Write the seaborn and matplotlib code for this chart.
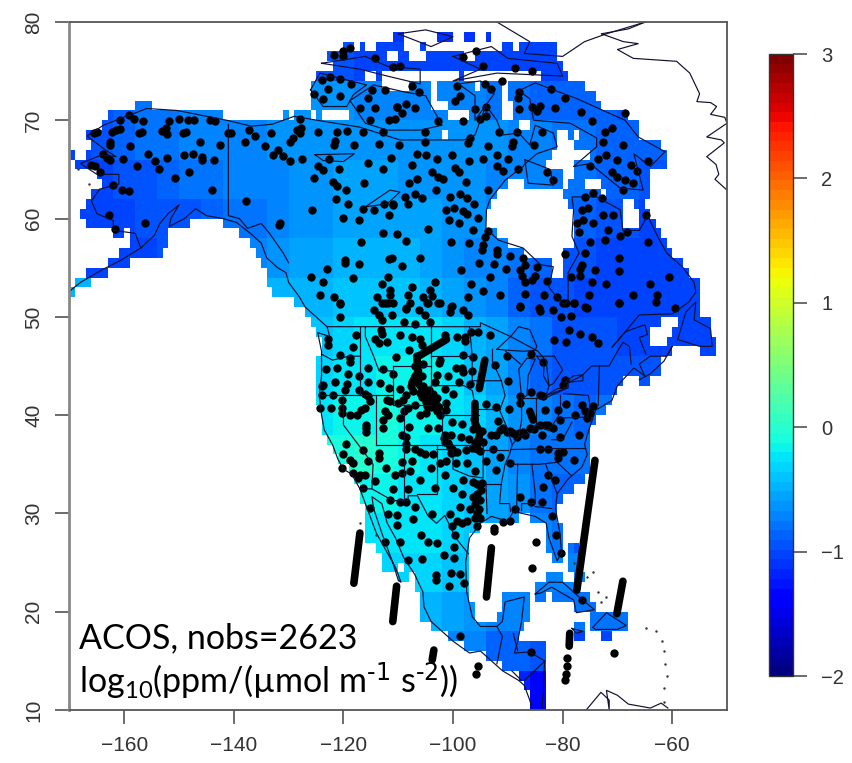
import numpy as np
import pandas as pd
import matplotlib
matplotlib.use('Agg')
import matplotlib.pyplot as plt
import seaborn as sns

# gridded field: land cells per 1 degree latitude row, as (lon start, lon end)
land_spans = {
    78: [(-111, -109), (-103, -100), (-98, -96), (-94, -93)],
    77: [(-120, -118), (-117, -116), (-114, -109), (-106, -105), (-91, -89), (-88, -81)],
    76: [(-123, -112), (-110, -108), (-105, -98), (-96, -81)],
    75: [(-122, -80)],
    74: [(-125, -116), (-114, -113), (-99, -98), (-84, -79)],
    73: [(-126, -113), (-108, -104), (-103, -96), (-95, -91), (-90, -76)],
    72: [(-126, -104), (-103, -91), (-90, -74)],
    71: [(-158, -155), (-126, -104), (-101, -91), (-89, -73)],
    70: [(-163, -142), (-131, -130), (-129, -126), (-125, -124), (-119, -101), (-97, -91), (-89, -68)],
    69: [(-164, -88), (-86, -66)],
    68: [(-167, -102), (-101, -81), (-79, -78), (-77, -66)],
    67: [(-166, -81), (-78, -62)],
    66: [(-170, -169), (-167, -82), (-75, -61)],
    65: [(-169, -83), (-78, -61)],
    64: [(-165, -80), (-78, -64)],
    63: [(-164, -90), (-87, -80), (-79, -76), (-73, -64)],
    62: [(-166, -92), (-80, -73), (-72, -64)],
    61: [(-167, -93), (-79, -69), (-67, -65)],
    60: [(-168, -94), (-78, -69), (-66, -64)],
    59: [(-167, -148), (-142, -94), (-78, -69), (-66, -63)],
    58: [(-162, -160), (-159, -152), (-139, -92), (-78, -62)],
    57: [(-159, -152), (-137, -90), (-78, -61)],
    56: [(-161, -153), (-136, -87), (-80, -60)],
    55: [(-163, -159), (-135, -82), (-80, -58)],
    54: [(-167, -163), (-134, -82), (-80, -57)],
    53: [(-169, -166), (-134, -55)],
    52: [(-170, -169), (-133, -55)],
    51: [(-129, -55)],
    50: [(-127, -55)],
    49: [(-126, -62), (-59, -53)],
    48: [(-125, -64), (-60, -53)],
    47: [(-124, -64), (-61, -52)],
    46: [(-124, -60), (-55, -52)],
    45: [(-125, -62)],
    44: [(-125, -62)],
    43: [(-125, -69), (-66, -64)],
    42: [(-125, -70)],
    41: [(-125, -71)],
    40: [(-124, -72)],
    39: [(-124, -74)],
    38: [(-124, -75)],
    37: [(-123, -75)],
    36: [(-122, -75)],
    35: [(-121, -75)],
    34: [(-119, -75)],
    33: [(-118, -76)],
    32: [(-117, -78)],
    31: [(-117, -80)],
    30: [(-116, -81)],
    29: [(-116, -88), (-86, -81)],
    28: [(-116, -95), (-83, -80)],
    27: [(-116, -97), (-83, -80)],
    26: [(-114, -97), (-83, -80), (-79, -77)],
    25: [(-113, -97), (-82, -80), (-79, -77)],
    24: [(-113, -110), (-109, -97), (-79, -77)],
    23: [(-110, -108), (-107, -97), (-83, -80), (-78, -76)],
    22: [(-107, -97), (-85, -78)],
    21: [(-106, -97), (-91, -86), (-85, -83), (-82, -75)],
    20: [(-106, -96), (-91, -86), (-78, -74)],
    19: [(-106, -96), (-92, -86), (-75, -68)],
    18: [(-104, -87), (-78, -76), (-75, -68)],
    17: [(-101, -88), (-78, -76), (-73, -71)],
    16: [(-98, -83)],
    15: [(-94, -83)],
    14: [(-91, -83)],
    13: [(-88, -83)],
    12: [(-87, -83)],
    11: [(-86, -83)],
    10: [(-86, -83)],
}

# field values read in 4 degree blocks: band start lat -> (first lon, values)
band_values = {
    78: (-114, [-1.1, -1.1, -1.12, -1.12, -1.12, -1.1, -1.1, -1.1, -1.1]),
    74: (-126, [-.95, -.95, -1.0, -1.02, -1.02, -1.05, -1.05, -1.05, -1.02, -1.02, -1.02, -1.02, -1.05, -1.05]),
    70: (-166, [-.95, -.88, -.82, -.78, -.75, -.72, -.7, -.68, -.66, -.65, -.65, -.65, -.68, -.72, -.7, -.7, -.7, -.72, -.78, -.82, -.85, -.85, -.88, -.9, -.92, -.95]),
    66: (-170, [-1.0, -.95, -.88, -.82, -.78, -.74, -.72, -.7, -.68, -.65, -.62, -.6, -.6, -.6, -.6, -.62, -.62, -.64, -.65, -.66, -.7, -.74, -.78, -.82, -.85, -.88, -.9, -.9]),
    62: (-170, [-1.0, -1.0, -.96, -.92, -.86, -.82, -.78, -.74, -.72, -.68, -.65, -.62, -.58, -.56, -.56, -.6, -.62, -.62, -.65, -.68, -.7, -.74, -.78, -.82, -.88, -.9, -.94, -.96]),
    58: (-170, [-1.0, -1.0, -1.0, -.98, -.95, -.92, -.88, -.82, -.76, -.7, -.65, -.6, -.55, -.52, -.52, -.55, -.55, -.6, -.62, -.7, -.75, -.8, -.85, -.9, -.94, -.98, -1.0, -1.02, -1.05, -1.05]),
    54: (-170, [-1.0, -1.0, -1.0, -1.0, -.98, -.95, -.88, -.8, -.7, -.62, -.56, -.52, -.48, -.46, -.48, -.5, -.54, -.6, -.68, -.72, -.8, -.88, -.92, -.96, -1.0, -1.02, -1.05, -1.05, -1.05, -1.05]),
    50: (-130, [-.5, -.46, -.42, -.38, -.38, -.42, -.46, -.54, -.62, -.75, -.85, -.92, -.96, -1.0, -1.02, -1.05, -1.05, -1.05, -1.05]),
    46: (-126, [-.36, -.32, -.26, -.24, -.24, -.26, -.34, -.44, -.56, -.7, -.82, -.92, -.96, -.98, -1.0, -1.02, -1.02, -1.02]),
    42: (-126, [-.3, -.26, -.22, -.2, -.18, -.2, -.28, -.42, -.56, -.72, -.85, -.92, -.96, -.96, -.96]),
    38: (-126, [-.22, -.2, -.14, -.06, -.14, -.18, -.24, -.34, -.5, -.64, -.74, -.82, -.86, -.82, -.86]),
    34: (-122, [-.12, -.02, -.12, -.18, -.22, -.3, -.42, -.56, -.7, -.78, -.82, -.82, -.82]),
    30: (-118, [-.16, -.2, -.22, -.26, -.32, -.42, -.52, -.65, -.78, -.84, -.84, -.84]),
    26: (-118, [-.24, -.26, -.26, -.28, -.34, -.42, -.52, -.6, -.7, -.8, -.95, -.88]),
    22: (-114, [-.32, -.32, -.32, -.36, -.42, -.5, -.6, -.68, -.7, -.74, -.7, -.74, -.74]),
    18: (-106, [-.48, -.55, -.62, -.7, -.75, -.8, -.8, -.8, -.8, -.8, -.8, -.8]),
    14: (-102, [-.7, -.75, -.85, -.9, -.95, -1.0, -1.0]),
    10: (-90, [-1.15, -1.35, -1.5]),
}

cbar_ticks = [-2, -1, 0, 1, 2, 3]
lon_ticks = [-160, -140, -120, -100, -80, -60]
lat_ticks = [10, 20, 30, 40, 50, 60, 70, 80]

# observation locations (lon, lat)
alaska_dots = [
    (-165.6, 68.7), (-165, 68.8), (-160.8, 70), (-159.2, 70.5), (-158.3, 70.1), (-156.5, 69.9), (-151.8, 69.9),
    (-150.1, 70.1), (-148.3, 70), (-147.2, 70), (-144.3, 70), (-143.5, 69.9), (-141.1, 68.7), (-140.5, 68.7),
    (-162.6, 67.8), (-162.3, 68.8), (-160.8, 69.1), (-161.5, 69), (-162.6, 67.5), (-157.4, 68.7), (-156.8, 68.8),
    (-153.2, 68.9), (-152.2, 68.6), (-152.4, 69.2), (-149.3, 68.7), (-148.8, 68.8), (-146.2, 67.8), (-142.5, 67.5),
    (-159, 67.4), (-163.8, 66.6), (-162.6, 66), (-163.2, 66.2), (-160.2, 66.1), (-155.7, 66.6), (-154.4, 65.9),
    (-152.2, 66.2), (-149.1, 66.5), (-147.5, 66.6), (-145.9, 66.3), (-145.9, 66), (-143.6, 66), (-165.3, 65.3),
    (-166, 65.4), (-164.5, 64.7), (-157.6, 65.3), (-153.6, 65), (-148.1, 64.7), (-150.8, 64.1), (-162, 63.4),
    (-160.5, 62.9), (-159.1, 62.8), (-144, 62.9), (-162.7, 60.4), (-156.2, 59.5), (-161.7, 58.9),
]
canada_west_dots = [
    (-137.8, 61.8), (-137.2, 69), (-136.1, 68.4), (-137.9, 67.8), (-133.3, 68.7), (-134.4, 67.4), (-127.9, 70.1),
    (-128.5, 69), (-127.8, 69.2), (-128, 68.7), (-129.7, 67.8), (-129.2, 68.2), (-132.8, 66.5), (-131.9, 67),
    (-131, 66.4), (-129.7, 65.9), (-127.5, 66.1), (-124.6, 68.8), (-121.2, 68.8), (-119.4, 68.9), (-121.8, 67.5),
    (-121.6, 67.9), (-118, 67.5), (-116.4, 68.8), (-113.6, 67.6), (-122.7, 66.1), (-124.6, 65.3), (-123.7, 64.9),
    (-120.9, 65), (-115.6, 65.7), (-112.7, 65), (-111.4, 66.2), (-125.3, 64.1), (-122, 63.7), (-121.1, 63.3),
    (-119.5, 62.9), (-116.2, 63.6), (-121.3, 62), (-119.1, 61.5), (-116.4, 61), (-114.5, 60.9), (-112.6, 61.5),
    (-110.9, 61.4), (-111.6, 60.4), (-125.7, 60.9), (-120, 60.1), (-117.2, 59.9), (-131.6, 59.6), (-131.7, 59.3),
    (-112.8, 58.5), (-116.8, 57.6), (-110.3, 58.4), (-119.8, 55.8), (-119.8, 55.5), (-117.2, 55.4), (-111.6, 55.9),
    (-123, 54.9), (-125.9, 54.1), (-123.7, 53.5), (-118.2, 54), (-124.3, 52.2), (-121.8, 52), (-120.6, 51.4),
    (-113, 53.3), (-111.8, 54.1), (-111.5, 52.2), (-113.9, 52), (-112.4, 51.4), (-110.9, 51.4),
]
arctic_dots = [
    (-121.8, 76.6), (-120, 77), (-118.8, 77.4), (-120, 76.5), (-114.2, 76.3), (-110.9, 75.4), (-124, 74.1),
    (-122.4, 74.4), (-120.6, 74.2), (-118.7, 73.7), (-122.8, 73.2), (-125.4, 72.7), (-123.7, 72.2), (-120.6, 72.5),
    (-114.8, 73.1), (-115.5, 72.3), (-112.5, 73.1), (-117, 71.3), (-114.2, 71.2), (-110.3, 71.4), (-115.1, 70),
    (-111.6, 70), (-112.7, 68.8), (-95.8, 77.1), (-94.5, 75.5), (-98.1, 76.4), (-88.7, 75.3), (-85.5, 75),
    (-91.1, 74), (-109.7, 75.5), (-107.5, 73.5), (-106.3, 72.9), (-99.3, 73.5), (-98.7, 72.5), (-99.6, 72),
    (-94.2, 73.7), (-93.1, 73.2), (-87.9, 72.9), (-88.1, 72.3), (-82.1, 73.2), (-79.6, 72.3), (-110.3, 71.4),
    (-108.5, 71.7), (-106.9, 71.2), (-109.4, 70.7), (-110.6, 70.1), (-96, 71.1), (-94, 71.4), (-93.9, 70.4),
    (-95.1, 70.1), (-98.1, 69.9), (-87.9, 71.1), (-85.6, 71.4), (-84.1, 71.5), (-84.7, 70.9), (-81.4, 71.2),
    (-76.7, 70.8), (-74.7, 69.9), (-68.6, 70.7), (-102.7, 69.9), (-71, 69.2), (-72.3, 68.8),
]
canada_east_dots = [
    (-72.6, 67.8), (-68.9, 67.5), (-91.7, 68.8), (-88.4, 68.8), (-89, 67.8), (-89.3, 67.4), (-96.9, 68.2),
    (-97.2, 67.7), (-83.8, 68.8), (-85.2, 67.5), (-105.1, 68.8), (-105.2, 67.8), (-109.8, 67.5), (-93.6, 67.4),
    (-106.6, 66.6), (-104.9, 66.5), (-103, 66.1), (-100.1, 66.5), (-97.1, 65.9), (-94.6, 66.1), (-91.9, 66.5),
    (-90, 66.1), (-73.5, 66.1), (-72, 66.5), (-70.1, 66), (-107.5, 65.5), (-92, 65.3), (-90.8, 64.8), (-88.1, 65),
    (-75, 65.3), (-67.6, 65.4), (-66.4, 64.8), (-64.4, 65.9), (-99.6, 65.1), (-99, 64.7), (-103.9, 64.7),
    (-102.7, 64.2), (-101.8, 64), (-106.5, 64), (-108, 63.6), (-97.6, 63.7), (-103.2, 62.9), (-93.7, 62.9),
    (-82.9, 64.7), (-81.7, 63.9), (-71, 64.7), (-70.1, 64.2), (-68.6, 63.9), (-67.1, 63.6), (-68.9, 62.9),
    (-74.4, 62.6), (-75.9, 62.2), (-72.9, 62.1), (-108.8, 62.2), (-106.9, 62.5), (-105.6, 62.1), (-100.6, 62.2),
    (-98.7, 62.5), (-97.4, 62.1), (-96.2, 61.5), (-108.2, 61.5), (-110.9, 61.5), (-101.2, 60.9), (-99.8, 61.1),
    (-98.2, 60.8), (-97.4, 60.5), (-95.4, 60.1), (-76.5, 60.9), (-75.3, 61.1), (-72.7, 60.4), (-70.8, 60.4),
    (-64.7, 60.4), (-100.7, 59.9), (-99, 59.5), (-96.3, 58.8), (-104.5, 58.9), (-76.2, 59.9), (-77.4, 59.5),
    (-74.4, 59.5), (-77.1, 58.6), (-71.7, 58.8), (-93.6, 58.7), (-94.2, 58.1), (-69.5, 58.2), (-68.3, 58.6),
    (-72.3, 57.8), (-75, 57.6), (-64.4, 57.6), (-108.5, 57.7), (-100.3, 57.6), (-97.1, 57.5), (-94.5, 57.3),
    (-94.8, 56.8), (-92, 56.8), (-92, 56.4), (-89.6, 56.2), (-87.2, 56), (-75.9, 56.5), (-79.6, 56.4), (-69.7, 56),
    (-106, 56), (-111.2, 56), (-95.2, 55.5), (-92.6, 55.4), (-109.4, 55.2), (-86.9, 55.3), (-84.7, 55.1),
    (-76.5, 55.3), (-76.8, 54.9), (-74.1, 54.8), (-69.7, 54.7), (-98.5, 54.8), (-90.3, 54.9), (-87.8, 54.8),
    (-87.5, 54.2), (-85, 54.2), (-85.6, 53.8), (-93.3, 54.1), (-78.5, 54.1), (-76.8, 54.2), (-60.5, 54.1),
    (-103.3, 53.5), (-96.7, 53.3), (-86.9, 53.5), (-82.9, 53.6), (-74.7, 53.5), (-72.1, 53.3), (-64.1, 53.3),
    (-107.5, 53), (-104.2, 52.7), (-111.5, 52.7), (-94.6, 52.6), (-91.4, 52.2), (-86.9, 52.3), (-83.4, 52.2),
    (-81.1, 52), (-75.1, 52.2), (-67.1, 52.2), (-62.8, 52.2), (-105.4, 52), (-103.9, 52.1), (-108.2, 52.2),
    (-102.4, 51.4), (-97.2, 52), (-107.9, 51.4), (-104.8, 51.4), (-79.9, 51.4), (-78, 51.4), (-87.8, 51.1),
    (-100.2, 51.1), (-69.7, 51.4), (-63, 51.5), (-59.5, 50.9), (-75.6, 50.9), (-108.5, 50.9), (-84.4, 50.9),
    (-87.8, 51), (-84.1, 50.6), (-81.7, 50.7), (-79.3, 51.4), (-78, 51.4), (-80.3, 50), (-78.4, 50.1), (-75.9, 51),
    (-69.7, 51.4), (-78.8, 48.7), (-76.8, 48.3), (-74.7, 48), (-73.5, 47.3), (-81.5, 47.6), (-79.4, 47.4),
]
us_west_dots = [
    (-120.6, 51.3), (-120.6, 50), (-114.4, 50.7), (-113, 51.4), (-111.8, 51.4), (-113.6, 50.2), (-113, 49.7),
    (-111.2, 50.2), (-108.6, 50.8), (-106.3, 50.7), (-104.5, 51.4), (-102.7, 51.4), (-105.1, 50.2), (-104.2, 49.5),
    (-109, 49.5), (-107, 49.3), (-100.3, 51), (-100.6, 50.5), (-98.1, 50.7), (-97.2, 50.2), (-122.8, 47.7),
    (-122.8, 47.1), (-117.7, 48.2), (-118.2, 46.9), (-120.6, 46.1), (-118.8, 45.8), (-118.8, 45.4), (-113.2, 48.7),
    (-113, 48.3), (-114.3, 47.7), (-113.6, 47.3), (-112, 47.4), (-109.6, 48.2), (-107.4, 48), (-106, 47.7),
    (-105.7, 47.1), (-101.4, 48.2), (-99.2, 48), (-97.8, 48), (-97.8, 47.5), (-108, 46.6), (-110.4, 45.9),
    (-98.1, 46.1), (-96.3, 45.9), (-102.4, 45.6), (-102.5, 45.3), (-115.5, 44.8), (-112.8, 44.7), (-123.2, 44.7),
    (-121.1, 44.8), (-119.2, 44.2), (-117.2, 44), (-99.4, 44.8), (-98.4, 44.8), (-98.1, 44.4), (-96.6, 44.5),
    (-100.9, 44), (-99, 43.4), (-96.9, 43.2), (-103, 44.1), (-103.3, 43.4), (-110.9, 44.2), (-123.7, 43.1),
    (-124, 43), (-121.5, 43.4), (-119.4, 43.2), (-119.7, 42.6), (-115.5, 43.4), (-113.3, 43.3), (-111.6, 42.8),
    (-109.7, 42.7), (-117.1, 42.6), (-116.1, 42.2), (-115.5, 41.9), (-124, 42), (-122, 42), (-120.2, 41.5),
    (-124.2, 40.7), (-122.3, 40.7), (-120.3, 40.7), (-120.3, 40.2), (-116.1, 40.7), (-115.2, 41.4), (-116.8, 40.5),
    (-118.8, 40), (-117.5, 40), (-115.8, 39), (-115.8, 38.3), (-115.8, 38.7), (-112.1, 41.5), (-111.5, 41.4),
    (-108.5, 42), (-109.1, 41.5), (-110, 41.2), (-105.1, 42.4), (-103.9, 41.7), (-103, 41.7), (-101.5, 42.7),
    (-100, 42.2), (-101.2, 41.2), (-101.2, 40.5), (-112.4, 40.4), (-111.8, 40), (-112.7, 39.5), (-109, 40.4),
    (-108.2, 40.7), (-107, 41), (-109.7, 39.7), (-104.8, 40.9), (-103.6, 40.9), (-103, 40.4), (-102.4, 40), (-106, 40),
    (-105, 40.2), (-112.8, 38.7), (-108, 38.8), (-104.6, 38.7), (-102.8, 38.7), (-100.1, 39.3), (-98.3, 39.1),
    (-109.4, 38), (-108.5, 37.8), (-108.5, 37.1), (-108.6, 36.6), (-101.5, 38), (-100.3, 38), (-98.6, 37.8),
    (-101.5, 37.3), (-100.6, 36.8), (-100.3, 36.1), (-119.6, 37.1), (-120, 36), (-118.8, 35.4), (-118.3, 35.1),
    (-116.5, 36.5), (-113.6, 36.1), (-113.6, 35.6), (-107, 36.6), (-106, 36.3), (-105.1, 36), (-103.6, 36),
    (-115.5, 35.3), (-120.3, 34.6), (-118.2, 34.1), (-117.3, 33.6), (-117, 33.9), (-116.1, 33.9), (-112.2, 34.6),
    (-109.4, 35.2), (-107.4, 35.3), (-101.2, 35.3), (-102.4, 35.1), (-99.4, 35.1), (-97.5, 35.1), (-110.6, 33.9),
    (-109.4, 34.1), (-107.9, 34.3), (-104, 34.6), (-101.4, 33.9), (-96, 34.3), (-98.1, 33.4), (-106, 33.4),
    (-114.3, 33.3), (-103.3, 32.6), (-100, 32.6), (-96.3, 33.2), (-94.8, 33.1), (-111, 32.5), (-108.2, 32.5),
    (-116.4, 32.6), (-111.5, 31.4), (-109.7, 31.2), (-108.5, 31.2), (-107, 30.7), (-98.8, 30.7), (-98.4, 32),
    (-115.2, 30.6), (-111.8, 29.9), (-110.3, 29.8), (-107.3, 29.4), (-103.9, 29.9), (-100.6, 29.9), (-96.9, 30.5),
    (-95.7, 30), (-96.3, 31.7), (-95.1, 31.4), (-95.7, 32), (-99.3, 29.2), (-97.5, 29.2), (-95.7, 28.7),
    # clusters around the dense swaths
    (-107, 45), (-105.5, 45.2), (-107, 44), (-105.7, 44), (-107.6, 43), (-105.5, 43), (-107.3, 42.5), (-106, 42.3),
    (-105, 41.3), (-104, 40.8), (-103.5, 41.3), (-104.3, 42.6), (-103.6, 42.2), (-105.6, 41.8),
    (-96.5, 36.7), (-96, 37.2), (-95.5, 37.6), (-94.8, 38.4), (-96.2, 39.6), (-96.3, 38.6), (-94.5, 37.3), (-95, 36.4),
    (-101.6, 37.7), (-100.9, 37.2), (-100.2, 36.6), (-99.8, 36.3), (-99.2, 36.2), (-97, 37.6), (-97.6, 36.5),
    (-96, 31), (-95.3, 30.5), (-95, 29.5), (-96, 29.5), (-94.9, 32.4), (-95.7, 33),
]
us_east_dots = [
    (-95.4, 48.5), (-93.3, 48.2), (-96.7, 48.5), (-90.2, 46), (-92.4, 45.1), (-89.9, 43.5), (-79.6, 43.6),
    (-79.9, 43.1), (-83.5, 45.4), (-85.7, 46.2), (-85.7, 42.4), (-84.1, 42), (-83.5, 41.9), (-87.8, 41.9),
    (-87.8, 41.2), (-89.7, 40.6), (-93.9, 41.1), (-92.1, 40.8), (-83.2, 40.5), (-80.8, 40.5), (-79.3, 41.1),
    (-76.5, 41), (-75.9, 40.4), (-74.4, 40.9), (-75, 40.2), (-75.6, 39.7), (-77.8, 40), (-80.5, 39.5), (-91.8, 39.4),
    (-91.4, 38.5), (-90.2, 38.3), (-89, 38.2), (-93, 38), (-92.1, 38), (-88.4, 37.8), (-86.9, 38), (-86, 38.7),
    (-84.1, 39), (-82.6, 39), (-81.7, 38.7), (-83.8, 38), (-80.5, 37.8), (-77.1, 38), (-87.2, 38.3), (-84.1, 36.6),
    (-82.6, 36.6), (-92.7, 36.6), (-91.4, 35.7), (-80.8, 36.1), (-79.9, 36.3), (-80.8, 35.6), (-78, 35.4),
    (-93.9, 35.3), (-89.6, 35.1), (-92.2, 34.4), (-82.6, 33.9), (-81.4, 33.4), (-83.5, 32.7), (-87.8, 31.7),
    (-85.7, 31.2), (-83.8, 31.2), (-88.7, 30.5), (-90.8, 29.1), (-89.6, 29.2), (-92.6, 28.5), (-82, 29.7),
    (-90.8, 38.7), (-88, 38.2), (-85.2, 38.6), (-83.3, 39), (-89.6, 38.4),
]
mexico_dots = [
    (-112.5, 27.1), (-109.6, 27.1), (-110.3, 28.8), (-105.8, 27.8), (-104.5, 27.1), (-102.9, 27), (-101.6, 25.8),
    (-99.9, 25.5), (-105.6, 25.4), (-108.3, 25.3), (-99.7, 27.8), (-100.2, 28.7), (-98.4, 29), (-99.9, 26.6),
    (-100.4, 23.9), (-98.8, 23.8), (-103.1, 23.7), (-103.1, 23.2), (-98, 22.9), (-100.8, 22.6), (-98.8, 17.5),
    (-85.5, 24.4), (-84.8, 27.1), (-92.6, 28.2), (-81.3, 27.8), (-80.3, 26), (-76.4, 21.2), (-70.7, 15.8),
    (-85.7, 15.9), (-79.2, 15.3), (-79.2, 14.5), (-79.4, 13.7), (-79.5, 13.1), (-95.4, 14.5), (-95.8, 13.7),
]

# dense satellite tracks that merge into thick strokes
track_lines = [
    [(-106.3, 46), (-101.2, 47.7)],
    [(-106.6, 46), (-106.3, 43.2), (-104.5, 41.9), (-102.5, 40.8)],
    [(-107.5, 43.3), (-106.3, 44.5)],
    [(-94.2, 45.6), (-95.2, 42.7)],
    [(-96, 41.2), (-96, 39.2), (-95.1, 38.2), (-95.7, 36.5)],
    [(-86, 40.4), (-85.4, 39.5)],
    [(-74.1, 35.4), (-77.4, 22.2)],
    [(-117, 28), (-118.1, 22.9)],
    [(-110.3, 22.6), (-111, 19)],
    [(-93, 26.5), (-93.9, 21.5)],
    [(-69, 23.1), (-70.1, 19.8)],
    [(-78.7, 17.8), (-78.8, 16.5)],
    [(-103.5, 16.1), (-103.8, 15.1)],
]

# map outlines
coast_lines = [
    # Aleutians, Alaska south coast, BC, US west coast, Baja, Pacific Mexico
    [(-170, 52.6), (-168, 53.5), (-164, 54.8), (-160.5, 55.8), (-157, 57), (-154.5, 58.3), (-153.5, 59.5), (-152, 60.5),
     (-150, 61.4), (-151.5, 60), (-151.8, 59.2), (-149, 60), (-147, 61), (-145, 60.3), (-142, 60), (-139.5, 59.6),
     (-137, 58.5), (-135, 57.5), (-134, 56), (-132, 55), (-130.5, 54.5), (-130, 53.5), (-128, 52), (-127, 51),
     (-125, 50), (-123, 49), (-122.5, 48), (-124.7, 48.4), (-124, 46.5), (-124, 44), (-124.4, 42), (-124, 40),
     (-123.5, 38.5), (-122, 37), (-121, 35.5), (-120, 34.5), (-118.5, 34), (-117, 32.5), (-116, 31), (-115, 29.5),
     (-114, 28), (-112.5, 26.5), (-110.5, 24.5), (-109.5, 23), (-110, 23.2), (-111, 25), (-112, 26.5), (-113, 28),
     (-114.5, 30.5), (-114.8, 31.7), (-113, 31), (-112, 29), (-110.5, 27.5), (-109, 25.5), (-107, 23.8), (-105.5, 22),
     (-105.3, 20.5), (-104, 19), (-102, 18), (-100, 17), (-97, 15.8), (-95, 16), (-93, 15), (-91, 14), (-88, 13),
     (-87, 12.5), (-86, 11), (-85.5, 10)],
    # Gulf and Atlantic coast
    [(-83.8, 10), (-83.5, 12), (-83.3, 15), (-86, 15.9), (-88.8, 15.8), (-88.2, 17), (-87.5, 19), (-87, 21.5), (-90.5, 21),
     (-91, 19), (-92, 18.5), (-95, 18.5), (-96.5, 19.5), (-97.5, 22), (-97.7, 25), (-97, 27.5), (-95, 29), (-93, 29.7),
     (-90, 29.2), (-89, 30.2), (-85, 29.7), (-83, 29), (-82.5, 27.5), (-81, 25.2), (-80.2, 26), (-80.5, 28), (-81.3, 30.5),
     (-81, 32), (-79, 33.5), (-76.5, 34.7), (-75.5, 36), (-76, 37), (-75.5, 38), (-74, 40.5), (-71, 41.5), (-70, 43),
     (-67, 44.8), (-65, 44), (-66, 45.2), (-64, 46), (-61, 46), (-60, 47), (-61.5, 45.5), (-64, 44.2), (-66, 43.6)],
    # Alaska west and north, Arctic mainland
    [(-157, 57), (-158, 58.5), (-162, 58.8), (-162, 59.8), (-165, 60.5), (-166, 61.8), (-164.5, 63), (-161, 63.5),
     (-161, 64.5), (-165, 64.5), (-168, 65.6), (-164, 66.5), (-161.5, 66.3), (-163.5, 67), (-166.8, 68.4), (-163.8, 69.5),
     (-155.9, 71.2), (-150.4, 71), (-141.3, 70), (-136.8, 69.4), (-133, 69.6), (-129, 70.4), (-123.7, 69.9), (-117, 69.3),
     (-109.7, 68), (-104, 68), (-98, 68), (-96, 68.5), (-94, 71.5), (-92, 70), (-91, 68.5), (-88, 68.7), (-86, 67.5),
     (-85, 69.5), (-81.7, 68.7), (-81, 67.3), (-84.7, 66.6), (-87, 65.5), (-87.2, 65.3), (-90.5, 63.9), (-93.3, 61.9),
     (-93.9, 60.9), (-94, 59), (-91.7, 57.8), (-87.2, 57), (-84, 55.3), (-81.7, 55.1), (-82.5, 53), (-80, 51.3),
     (-79, 51.5), (-79, 54.5), (-77, 56.5), (-78.3, 58.2), (-78, 60.9), (-78.3, 62.2), (-73.8, 62.2), (-69.5, 60.9),
     (-69, 58.8), (-66, 58.8), (-64.5, 60.3), (-62.5, 58), (-61, 56.5), (-58, 55), (-56, 53.5), (-55.7, 52.5), (-57, 51.5),
     (-60, 50.3), (-66, 50.2), (-69, 48.2), (-71, 46.9), (-68.5, 48.5), (-65, 49.2), (-64.5, 48.2), (-66, 47.9), (-64.8, 46.2)],
    # Newfoundland
    [(-59, 47.7), (-57.5, 50.5), (-55.7, 51.5), (-56, 49.7), (-53, 48.8), (-52.7, 47), (-55, 47), (-59, 47.7)],
    # Baffin, Southampton, Banks, Victoria
    [(-88, 73), (-85, 73.8), (-81.7, 73.1), (-77.4, 72.2), (-72.6, 71), (-68.6, 70), (-66.2, 68.3), (-61.3, 66.8), (-64, 65.3),
     (-67, 66.6), (-65.3, 62.9), (-69.5, 63.1), (-75, 65.6), (-78, 65.3), (-73.8, 67.3), (-73.8, 68.2), (-78.6, 69.7),
     (-85.3, 70), (-86, 72.2), (-88, 73)],
    [(-86.9, 66), (-82.3, 65), (-81.7, 63.4), (-86.3, 63.6), (-86.9, 66)],
    [(-126, 73.1), (-124.3, 74.8), (-115.8, 73.6), (-118.2, 72.6), (-119.4, 71.4), (-123.7, 71.4), (-126, 73.1)],
    [(-118.8, 72), (-114.5, 73.6), (-109, 72.9), (-105, 72.5), (-102, 69.5), (-106, 69), (-112, 69), (-116, 69.7), (-118.8, 72)],
    [(-124, 75.8), (-116, 76.5), (-112, 75.5), (-106, 75.2), (-106, 73.7), (-112, 74.5), (-117, 75.2), (-124, 75.8)],
    [(-100, 76.5), (-95, 75.2), (-100, 74), (-92, 74.8), (-80, 74.5), (-81, 75.8), (-90, 76.3), (-93, 77.5), (-100, 76.5)],
    [(-99, 73.7), (-96, 72.5), (-96, 70), (-92.5, 72.7), (-95, 74), (-99, 73.7)],
    [(-92, 80), (-86, 78), (-87, 76.8), (-80, 76.5), (-76, 78), (-72, 78.8), (-64.9, 80)],
    [(-110, 78.8), (-105, 79.2), (-100, 78.5), (-104, 77.5), (-110, 78.8)],
    # Greenland
    [(-72.9, 78.8), (-68.9, 78), (-66.2, 77.8), (-70, 77.2), (-67.1, 76.3), (-59.2, 76), (-56.8, 74.8), (-55, 72.7), (-55.5, 71.9),
     (-53, 71.8), (-51.9, 71.4), (-53, 70.6), (-50.4, 70.3), (-50, 69.7), (-53.7, 68.3), (-51, 68), (-50.5, 67.7), (-53.7, 66.3),
     (-52, 65.5), (-51.5, 64.5), (-52.2, 64), (-50, 62.9)],
    [(-72.9, 78.8), (-68, 79.3), (-64.9, 80)],
    # Cuba, Hispaniola, Jamaica, South America
    [(-85, 21.8), (-82.5, 23), (-80, 23), (-77, 21.5), (-74.2, 20.2), (-77.5, 19.9), (-78, 21.2), (-82, 22.5), (-84, 21.9), (-85, 21.8)],
    [(-74.5, 18.4), (-72, 19.9), (-68.4, 18.6), (-70, 18.2), (-74, 18.2), (-74.5, 18.4)],
    [(-78.3, 18.3), (-76.3, 18), (-77.5, 17.8), (-78.3, 18.3)],
    [(-75.7, 10), (-73, 11.8), (-71.5, 11), (-71.5, 10), (-72, 12), (-70, 11.5), (-68, 10.6), (-64, 10.2), (-62, 10.7), (-60.8, 10.2)],
    # lakes
    [(-125.2, 66.5), (-118, 66.6), (-120, 65.8), (-123.7, 65.9), (-125.2, 66.5)],
    [(-116, 61.2), (-111.5, 62.9), (-109.7, 62.7), (-112, 61.5), (-116, 61.2)],
    [(-92, 46.7), (-89.5, 48), (-88, 49), (-86, 48.7), (-84.7, 47), (-85, 46.6), (-87, 46.5), (-90, 46.6), (-92, 46.7)],
    [(-87.5, 41.7), (-86.5, 42), (-86.3, 44), (-85, 45.7), (-86.5, 45.8), (-88, 44.7), (-87.7, 43), (-87.5, 41.7)],
    [(-84.7, 46), (-81.5, 46), (-80, 44.6), (-81.7, 43.2), (-82.5, 43), (-83.5, 44), (-83.4, 45), (-84.7, 46)],
    [(-83.3, 41.7), (-79, 42.8), (-81, 42.7), (-83, 42), (-83.3, 41.7)],
    [(-79.7, 43.3), (-76.3, 43.5), (-76.3, 44.1), (-78, 44), (-79.7, 43.3)],
]
border_lines = [
    [(-141, 69.6), (-141, 60.3), (-139, 60), (-137.5, 59), (-135, 59.5), (-133.5, 58.5), (-131, 56.5), (-130, 55.5)],
    [(-123, 49), (-95, 49), (-95, 49.4), (-89.5, 48), (-84.5, 46.5), (-83, 45.5), (-82.5, 43), (-83, 42), (-79, 42.8), (-79, 43.3),
     (-76.5, 44), (-74.7, 45), (-71.5, 45), (-70, 46.5), (-69, 47.4), (-67.8, 47), (-67.5, 45.2)],
    [(-117, 32.5), (-114.8, 32.5), (-111, 31.3), (-108.2, 31.3), (-108.2, 31.8), (-106.5, 31.8), (-104.5, 29.7), (-103, 29),
     (-101.5, 29.8), (-99.5, 27.5), (-97.2, 25.9)],
    [(-124, 46.2), (-122, 45.6), (-119, 46), (-117, 46)],
    [(-117, 49), (-117, 42)],
    [(-124.2, 42), (-111, 42)],
    [(-120, 42), (-120, 39), (-114.6, 35), (-114.8, 32.5)],
    [(-114, 42), (-114, 37)],
    [(-114, 37), (-94.6, 37)],
    [(-116, 49), (-116, 48), (-114.5, 46), (-113.5, 44.5), (-111, 44.5)],
    [(-111, 45), (-104, 45), (-104, 41), (-111, 41), (-111, 45)],
    [(-104, 49), (-104, 45)],
    [(-109, 41), (-109, 31.3)],
    [(-104, 41), (-102, 41), (-102, 37)],
    [(-103, 37), (-103, 32), (-106.5, 32)],
    [(-103, 36.5), (-100, 36.5), (-100, 34.5), (-97, 33.8), (-94.5, 33.6), (-94.5, 37)],
    [(-102, 40), (-95.3, 40)],
    [(-104, 43), (-98, 43), (-96.5, 42.5), (-95.8, 40.5)],
    [(-104, 46), (-96.5, 46)],
    [(-97, 49), (-96.5, 46), (-96.5, 43.5), (-91.2, 43.5)],
    [(-95.8, 40.6), (-91.5, 40.6)],
    [(-92.8, 46.7), (-92.8, 45.5), (-91.2, 43.5), (-90.5, 42), (-91.5, 40.5), (-90.2, 38.8), (-89.2, 37), (-89.7, 36), (-90.5, 35),
     (-91.2, 33), (-91.5, 31), (-89.7, 31), (-89.5, 30.2)],
    [(-89.2, 37), (-88, 37.8), (-85.5, 38.3), (-84.8, 39.1), (-82.5, 38.4), (-80.7, 40)],
    [(-94.6, 36.5), (-90, 36.5)],
    [(-89.5, 36.5), (-81.7, 36.6), (-75.9, 36.6)],
    [(-90.2, 35), (-84.3, 35), (-81, 35.2), (-78.5, 33.9)],
    [(-88.2, 35), (-88.4, 30.3)],
    [(-85.6, 35), (-85, 32), (-85, 31), (-87.5, 31), (-87.5, 30.3)],
    [(-85, 30.7), (-82, 30.5)],
    [(-83.1, 35), (-81, 32)],
    [(-87.5, 41.7), (-87.5, 39.4), (-88, 37.9)],
    [(-84.8, 41.7), (-84.8, 39.1)],
    [(-87, 41.7), (-83.4, 41.7)],
    [(-80.5, 42), (-80.5, 40.6)],
    [(-79.8, 42.2), (-75.3, 42), (-75, 41), (-75.5, 39.8), (-80.5, 39.7)],
    [(-73.3, 45), (-73.5, 41)],
    [(-94, 33), (-93.8, 30)],
    [(-94, 33), (-91.2, 33)],
    [(-90.4, 46.5), (-87.7, 45.2)],
    [(-82, 37.5), (-80, 37.5), (-78.3, 39.3)],
    [(-92, 18.5), (-91, 17.5), (-92, 14.7)],
    [(-89, 17.8), (-88.2, 16)],
    [(-89.3, 14), (-87.5, 13)],
    [(-83.2, 15), (-87, 13)],
]
island_specks = [
    (-64.8, 18.3), (-63, 18), (-61.8, 17), (-61.5, 16), (-61.3, 14.7), (-61, 13.5), (-61.5, 12.2), (-61.5, 10.8),
    (-78, 25), (-77, 24), (-75.5, 23.5), (-73.5, 22), (-73, 21), (-74.5, 24), (-72, 21.5), (-117, 29),
    (-114, 27.8), (-166.5, 63.5), (-168.5, 65),
]


def field_value(lat, lon):
    # look up the 4 degree block a 1 degree cell falls in
    band = 10 + (lat - 10) // 4 * 4
    first_lon, values = band_values[band]
    i = (lon - first_lon) // 4
    return values[min(max(i, 0), len(values) - 1)]


def build_field():
    lats = np.arange(79, 9, -1)
    lons = np.arange(-170, -50)
    grid = pd.DataFrame(np.nan, index=lats, columns=lons)
    for lat, spans in land_spans.items():
        for start, end in spans:
            for lon in range(start, end):
                grid.loc[lat, lon] = field_value(lat, lon)
    return grid


def dots_frame():
    all_dots = alaska_dots + canada_west_dots + arctic_dots + canada_east_dots + us_west_dots + us_east_dots + mexico_dots
    return pd.DataFrame(all_dots, columns=['lon', 'lat'])


plt.rcParams['font.family'] = ['Liberation Sans', 'DejaVu Sans']
plt.rcParams['mathtext.default'] = 'regular'

W, H = 853, 763
fig = plt.figure(figsize=(W / 100, H / 100), dpi=100)
box = [69.5 / W, 1 - 710 / H, (727 - 69.5) / W, (710 - 22) / H]
ax_field = fig.add_axes(box)
ax_cbar = fig.add_axes([768.5 / W, 1 - 676 / H, 25 / W, (676 - 54) / H])

jet64 = plt.get_cmap('jet', 64)
sns.heatmap(build_field(), ax=ax_field, cmap=jet64, vmin=-2, vmax=3, cbar_ax=ax_cbar,
            xticklabels=False, yticklabels=False, cbar_kws={'ticks': cbar_ticks})
ax_field.set_xlabel('')
ax_field.set_ylabel('')

# map axes on top of the heatmap, in lon/lat
ax = fig.add_axes(box, facecolor='none')
ax.set_xlim(-170, -50)
ax.set_ylim(10, 80)

for line in coast_lines + border_lines:
    xs, ys = zip(*line)
    ax.plot(xs, ys, color='#101030', lw=0.85, solid_joinstyle='round')

xs, ys = zip(*island_specks)
ax.plot(xs, ys, ls='none', marker='.', ms=1.5, color='#333333')

for line in track_lines:
    xs, ys = zip(*line)
    ax.plot(xs, ys, color='black', lw=5.5, solid_capstyle='round')

sns.scatterplot(data=dots_frame(), x='lon', y='lat', color='black', s=36, linewidth=0, ax=ax, legend=False)
ax.set_xlabel('')
ax.set_ylabel('')

ax.set_xticks(lon_ticks)
ax.set_yticks(lat_ticks)
ax.tick_params(axis='both', length=10, width=1.1, color='#444444', labelcolor='#333333', labelsize=15, pad=9)
ax.tick_params(axis='y', labelrotation=90, pad=9)
for lab in ax.get_yticklabels():
    lab.set_va('center')
for name, spine in ax.spines.items():
    spine.set_color('#555555')
    spine.set_linewidth(1.3)
ax.spines['left'].set_color('#888888')
ax.spines['left'].set_linewidth(2)

cbar = ax_field.collections[0].colorbar
cbar.set_ticklabels(['\u22122', '\u22121', '0', '1', '2', '3'])
cbar.ax.tick_params(length=10, width=1.1, color='#444444', labelcolor='#333333', labelsize=14.5, pad=10)
cbar.outline.set_visible(True)
cbar.outline.set_edgecolor('#333333')
cbar.outline.set_linewidth(1)

ax.text(-168.3, 17.3, 'ACOS, nobs=2623', fontsize=24.5, family='Lato', color='black', va='center', ha='left')
ax.text(-168.3, 12.9, 'log$_{10}$(ppm/(\u00b5mol m$^{\\text{-1}}$ s$^{\\text{-2}}$))', fontsize=24.5, family='Lato', color='black', va='center', ha='left', clip_on=False)

fig.savefig('out.png', dpi=100)
